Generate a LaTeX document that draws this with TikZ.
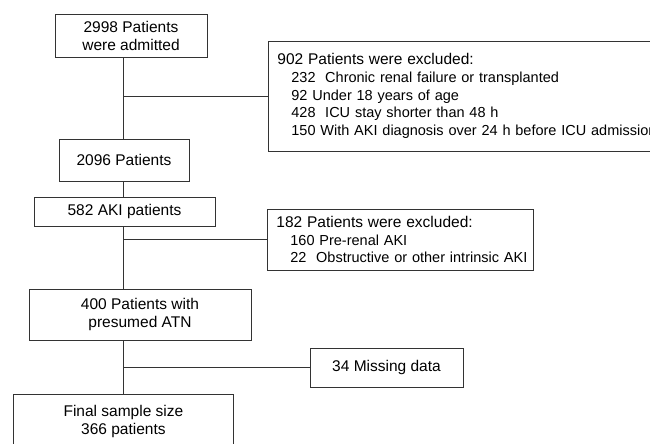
\documentclass[tikz,border=0pt]{standalone}
\usepackage{fontspec}
\setmainfont{Liberation Sans}
\newcommand\mainsz{\fontsize{15.5}{18}\selectfont}
\newcommand\itemsz{\fontsize{14.5}{17.8}\selectfont}
\begin{document}
\begin{tikzpicture}[x=1pt,y=-1pt,
  box/.style={draw=black!80, line width=0.8pt, inner sep=0pt, align=center, font=\mainsz},
  exbox/.style={draw=black!80, line width=0.8pt, inner ysep=0pt, align=left, font=\itemsz, anchor=west},
  link/.style={draw=black!80, line width=0.8pt}]
\useasboundingbox (0,0) rectangle (650,444);
\clip (0,0) rectangle (650,444);
\fill[white] (0,0) rectangle (650,444);
\coordinate (spine) at (123,0);
\node[box, minimum width=152pt, minimum height=43pt] (adm) at (131,35.5) {2998 Patients\\were admitted};
\node[box, minimum width=130pt, minimum height=42pt] (pat) at (124,160) {2096 Patients};
\node[box, minimum width=181pt, minimum height=29pt] (aki) at (124.5,211.5) {582 AKI patients};
\node[box, minimum width=222pt, minimum height=51pt] (atn) at (140,314.5) {400 Patients with\\presumed ATN};
\node[box, minimum width=153pt, minimum height=39pt] (miss) at (386.5,367.5) {34 Missing data};
\node[box, minimum width=220pt, minimum height=54pt, anchor=north west] (fin) at (13,394) {Final sample size\\366 patients};
\node[exbox, text width=382pt, inner xsep=9pt, minimum height=110pt] (exa) at (268,96)
  {\mbox{\mainsz 902 Patients were excluded:}\\
   \mbox{\hspace*{14pt}232\ \ Chronic renal failure or transplanted}\\
   \mbox{\hspace*{14pt}92 Under 18 years of age}\\
   \mbox{\hspace*{14pt}428\ \ ICU stay shorter than 48 h}\\
   \mbox{\hspace*{14pt}150 With AKI diagnosis over 24 h before ICU admission}};
\node[exbox, text width=252pt, inner xsep=7pt, minimum height=61pt] (exb) at (267,239.5)
  {\mbox{\mainsz\hspace*{2pt}182 Patients were excluded:}\\
   \mbox{\hspace*{16pt}160 Pre-renal AKI}\\
   \mbox{\hspace*{16pt}22\ \ Obstructive or other intrinsic AKI}};
\draw[link] (adm.south -| spine) -- (pat.north -| spine);
\draw[link] (spine |- exa.west) -- (exa.west);
\draw[link] (pat.south -| spine) -- (aki.north -| spine);
\draw[link] (aki.south -| spine) -- (atn.north -| spine);
\draw[link] (spine |- exb.west) -- (exb.west);
\draw[link] (atn.south -| spine) -- (fin.north -| spine);
\draw[link] (spine |- miss.west) -- (miss.west);
\end{tikzpicture}
\end{document}
